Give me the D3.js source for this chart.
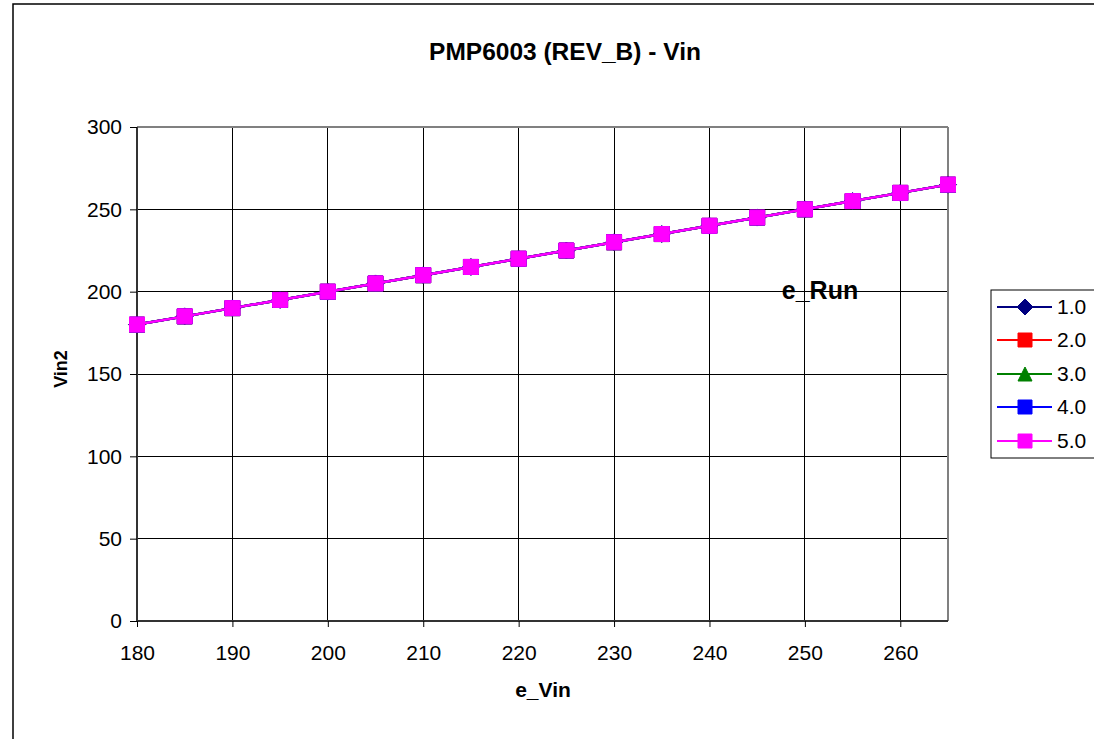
<!DOCTYPE html>
<html>
<head>
<meta charset="utf-8">
<script src="https://cdn.jsdelivr.net/npm/d3@7"></script>
<style>
  html, body { margin: 0; padding: 0; background: #fff; }
  svg { display: block; font-family: "Liberation Sans", Arial, sans-serif; }
</style>
</head>
<body>
<svg id="chart" width="1094" height="739"></svg>
<script>
// Input voltage sweep (e_Vin) and measured Vin2 for each run
const eVin = [180, 185, 190, 195, 200, 205, 210, 215, 220, 225, 230, 235, 240, 245, 250, 255, 260, 265];
const run1 = [180, 185, 190, 195, 200, 205, 210, 215, 220, 225, 230, 235, 240, 245, 250, 255, 260, 265];
const run2 = [180, 185, 190, 195, 200, 205, 210, 215, 220, 225, 230, 235, 240, 245, 250, 255, 260, 265];
const run3 = [180, 185, 190, 195, 200, 205, 210, 215, 220, 225, 230, 235, 240, 245, 250, 255, 260, 265];
const run4 = [180, 185, 190, 195, 200, 205, 210, 215, 220, 225, 230, 235, 240, 245, 250, 255, 260, 265];
const run5 = [180, 185, 190, 195, 200, 205, 210, 215, 220, 225, 230, 235, 240, 245, 250, 255, 260, 265];
const runNames = ["1.0", "2.0", "3.0", "4.0", "5.0"];
const xTicks = [180, 190, 200, 210, 220, 230, 240, 250, 260];
const yTicks = [0, 50, 100, 150, 200, 250, 300];

const series = [
  { name: runNames[0], values: run1, color: "#000080", marker: "diamond" },
  { name: runNames[1], values: run2, color: "#ff0000", marker: "square" },
  { name: runNames[2], values: run3, color: "#008000", marker: "triangle" },
  { name: runNames[3], values: run4, color: "#0000ff", marker: "square" },
  { name: runNames[4], values: run5, color: "#ff00ff", marker: "square" }
];

const svg = d3.select("#chart");

// Outer chart frame
svg.append("rect")
  .attr("x", 13).attr("y", 4)
  .attr("width", 1100).attr("height", 760)
  .attr("fill", "#fff").attr("stroke", "#000").attr("stroke-width", 1.5);

const plot = { left: 137, right: 948, top: 127, bottom: 621 };

const x = d3.scaleLinear().domain([180, 265]).range([plot.left, plot.right]);
const y = d3.scaleLinear().domain([0, 300]).range([plot.bottom, plot.top]);

// Grid lines
const grid = svg.append("g");
grid.selectAll("line.v").data(xTicks.filter(d => d > 180)).join("line")
  .attr("x1", d => x(d)).attr("x2", d => x(d))
  .attr("y1", plot.top).attr("y2", plot.bottom)
  .attr("stroke", "#000").attr("stroke-width", 1).attr("shape-rendering", "crispEdges");
grid.selectAll("line.h").data(yTicks.filter(d => d > 0 && d < 300)).join("line")
  .attr("x1", plot.left).attr("x2", plot.right)
  .attr("y1", d => y(d)).attr("y2", d => y(d))
  .attr("stroke", "#000").attr("stroke-width", 1).attr("shape-rendering", "crispEdges");

// Plot frame: top and right in grey
svg.append("line")
  .attr("x1", plot.left).attr("x2", plot.right).attr("y1", plot.top).attr("y2", plot.top)
  .attr("stroke", "#808080").attr("stroke-width", 2);
svg.append("line")
  .attr("x1", plot.right).attr("x2", plot.right).attr("y1", plot.top).attr("y2", plot.bottom)
  .attr("stroke", "#808080").attr("stroke-width", 2);

// Axes
const xAxis = d3.axisBottom(x).tickValues(xTicks).tickSize(6).tickPadding(18).tickFormat(d3.format("d"));
const yAxis = d3.axisLeft(y).tickValues(yTicks).tickSize(7).tickPadding(8).tickFormat(d3.format("d"));

const gx = svg.append("g").attr("transform", `translate(0,${plot.bottom})`).call(xAxis);
const gy = svg.append("g").attr("transform", `translate(${plot.left},0)`).call(yAxis);
[gx, gy].forEach(g => {
  g.select(".domain").attr("stroke", "#333").attr("stroke-width", 2);
  g.selectAll(".tick line").attr("stroke", "#000").attr("stroke-width", 1);
  g.selectAll(".tick text").attr("font-size", 21).attr("fill", "#000")
    .attr("font-family", "Liberation Sans, Arial, sans-serif");
});
gx.select(".domain").attr("d", `M${plot.left},0H${plot.right}`);
gy.select(".domain").attr("d", `M0,${plot.bottom}V${plot.top}`);

// Marker shapes
function markerPath(type, size) {
  const h = size / 2;
  if (type === "diamond") return `M0,${-h}L${h},0L0,${h}L${-h},0Z`;
  if (type === "triangle") return `M0,${-h}L${h},${h}L${-h},${h}Z`;
  return `M${-h},${-h}H${h}V${h}H${-h}Z`;
}

// Series lines and markers
const line = d3.line().x((d, i) => x(eVin[i])).y(d => y(d));
series.forEach(s => {
  const g = svg.append("g");
  g.append("path").datum(s.values)
    .attr("d", line).attr("fill", "none")
    .attr("stroke", s.color).attr("stroke-width", 2.5);
  g.selectAll("path.m").data(s.values).join("path")
    .attr("class", "m")
    .attr("transform", (d, i) => `translate(${x(eVin[i])},${y(d)})`)
    .attr("d", markerPath(s.marker, s.marker === "diamond" ? 17 : 15))
    .attr("fill", s.color).attr("stroke", s.color).attr("stroke-width", 1);
});

// Titles
svg.append("text").attr("x", 565).attr("y", 60).attr("text-anchor", "middle")
  .attr("font-size", 24.5).attr("font-weight", "bold").text("PMP6003 (REV_B) - Vin");
svg.append("text").attr("x", 543).attr("y", 697).attr("text-anchor", "middle")
  .attr("font-size", 21).attr("font-weight", "bold").text("e_Vin");
svg.append("text").attr("transform", "translate(67,369) rotate(-90)").attr("text-anchor", "middle")
  .attr("font-size", 18).attr("font-weight", "bold").text("Vin2");
svg.append("text").attr("x", 820).attr("y", 299).attr("text-anchor", "middle")
  .attr("font-size", 25).attr("font-weight", "bold").text("e_Run");

// Legend
const legend = svg.append("g");
legend.append("rect").attr("x", 991).attr("y", 290).attr("width", 110).attr("height", 168)
  .attr("fill", "#fff").attr("stroke", "#000").attr("stroke-width", 1);
const rowY = [307, 340, 374, 407, 441];
series.forEach((s, i) => {
  const r = legend.append("g").attr("transform", `translate(0,${rowY[i]})`);
  r.append("line").attr("x1", 997).attr("x2", 1052).attr("y1", 0).attr("y2", 0)
    .attr("stroke", s.color).attr("stroke-width", 2);
  r.append("path").attr("transform", "translate(1025,0)")
    .attr("d", markerPath(s.marker, s.marker === "diamond" ? 16 : 14))
    .attr("fill", s.color).attr("stroke", s.color);
  r.append("text").attr("x", 1057).attr("y", 7).attr("font-size", 21).text(s.name);
});
</script>
</body>
</html>
